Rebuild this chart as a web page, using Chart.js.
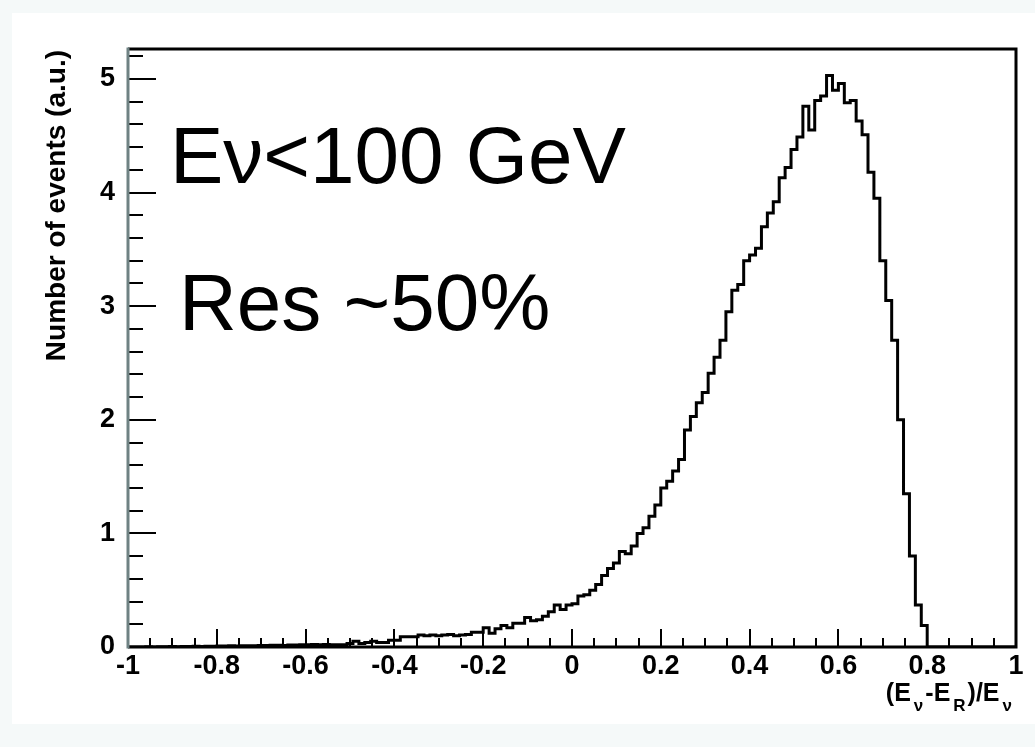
<!DOCTYPE html>
<html>
<head>
<meta charset="utf-8">
<script src="https://cdn.jsdelivr.net/npm/chart.js@4.4.1/dist/chart.umd.min.js"></script>
<style>
    body { margin: 0; background: #f5f9f9; }
    #sheet { position: absolute; left: 12px; top: 13px; width: 1023px; height: 711px; background: #ffffff; }
    #plot { position: absolute; left: 0; top: 0; }
</style>
</head>
<body>
<div id="sheet"></div>
<canvas id="plot" width="1035" height="747"></canvas>
<script>
// histogram: 150 bins between -1 and 1
const binMin = -1;
const binMax = 1;
const counts = [
    0, 0, 0, 0.002, 0, 0.003, 0.002, 0.004, 0.003, 0.005,
    0.004, 0.006, 0.005, 0.007, 0.006, 0.008, 0.008, 0.01, 0.009, 0.011,
    0.012, 0.01, 0.014, 0.013, 0.015, 0.016, 0.014, 0.018, 0.017, 0.02,
    0.019, 0.021, 0.02, 0.022, 0.02, 0.02, 0.02, 0.03, 0.05, 0.03,
    0.04, 0.05, 0.04, 0.04, 0.06, 0.06, 0.09, 0.09, 0.09, 0.105,
    0.10, 0.105, 0.10, 0.105, 0.11, 0.10, 0.105, 0.11, 0.13, 0.13,
    0.17, 0.12, 0.16, 0.19, 0.17, 0.21, 0.21, 0.26, 0.23, 0.24,
    0.27, 0.31, 0.37, 0.33, 0.37, 0.38, 0.45, 0.46, 0.50, 0.55,
    0.63, 0.69, 0.74, 0.84, 0.82, 0.89, 1.00, 1.05, 1.15, 1.25,
    1.40, 1.46, 1.55, 1.65, 1.91, 2.03, 2.15, 2.24, 2.41, 2.55,
    2.70, 2.95, 3.14, 3.19, 3.40, 3.45, 3.51, 3.70, 3.82, 3.92,
    4.13, 4.22, 4.38, 4.49, 4.76, 4.55, 4.81, 4.85, 5.03, 4.90,
    4.96, 4.79, 4.81, 4.63, 4.51, 4.18, 3.95, 3.40, 3.05, 2.70,
    2.00, 1.35, 0.80, 0.37, 0.19, 0, 0, 0, 0, 0,
    0, 0, 0, 0, 0, 0, 0, 0, 0, 0
];

const xTicks = [-1, -0.8, -0.6, -0.4, -0.2, 0, 0.2, 0.4, 0.6, 0.8, 1];
const xTickLabels = ['-1', '-0.8', '-0.6', '-0.4', '-0.2', '0', '0.2', '0.4', '0.6', '0.8', '1'];
const yTicks = [0, 1, 2, 3, 4, 5];
const yTickLabels = ['0', '1', '2', '3', '4', '5'];
const yMax = 5.264;

const yTitle = 'Number of events (a.u.)';
const textLines = ['E\u03bd<100 GeV', 'Res ~50%'];

const tickFont = { family: 'Liberation Sans, Arial, sans-serif', size: 27, weight: 'bold' };

/**
 * Puntos del histograma en los bordes izquierdos de cada bin
 */
function histPoints(){
    const width = (binMax - binMin) / counts.length;
    const pts = counts.map((c, i) => ({ x: binMin + i * width, y: c }));
    pts.push({ x: binMax, y: 0 });
    return pts;
}

// frame, inner ticks and texts, ROOT style
const rootDeco = {
    id: 'rootDeco',
    afterDatasetsDraw(chart){
        const ctx = chart.ctx;
        const area = chart.chartArea;
        const xs = chart.scales.x;
        const ys = chart.scales.y;

        ctx.save();
        ctx.lineWidth = 2;
        ctx.strokeStyle = '#000';
        // y ticks every 0.2, long ones on integers
        for (let i = 0; i <= 26; i++){
            const v = i * 0.2;
            if (v > yMax) break;
            const py = Math.round(ys.getPixelForValue(v));
            const len = (i % 5 === 0) ? 28 : 15;
            ctx.beginPath();
            ctx.moveTo(area.left, py);
            ctx.lineTo(area.left + len, py);
            ctx.stroke();
        }
        // x ticks every 0.05, long ones every 0.2
        for (let i = 0; i <= 40; i++){
            const v = -1 + i * 0.05;
            const px = Math.round(xs.getPixelForValue(v));
            const len = (i % 4 === 0) ? 18 : 9;
            ctx.beginPath();
            ctx.moveTo(px, area.bottom);
            ctx.lineTo(px, area.bottom - len);
            ctx.stroke();
        }

        // frame
        ctx.lineWidth = 3;
        ctx.strokeStyle = '#000';
        ctx.beginPath();
        ctx.moveTo(area.left, area.top);
        ctx.lineTo(area.right, area.top);
        ctx.lineTo(area.right, area.bottom);
        ctx.lineTo(area.left, area.bottom);
        ctx.stroke();
        ctx.strokeStyle = '#6f8283';
        ctx.beginPath();
        ctx.moveTo(area.left, area.top - 1.5);
        ctx.lineTo(area.left, area.bottom + 1.5);
        ctx.stroke();

        // y axis title
        ctx.fillStyle = '#000';
        ctx.font = 'bold 28px "Liberation Sans", Arial, sans-serif';
        ctx.translate(57, 50);
        ctx.rotate(-Math.PI / 2);
        ctx.textAlign = 'right';
        ctx.textBaseline = 'middle';
        ctx.fillText(yTitle, 0, 0);
        ctx.restore();

        // x axis title with subscripts
        ctx.save();
        ctx.fillStyle = '#000';
        ctx.textBaseline = 'alphabetic';
        const parts = [
            { t: '(E', sub: false }, { t: '\u03bd', sub: true },
            { t: '-E', sub: false }, { t: 'R', sub: true },
            { t: ')/E', sub: false }, { t: '\u03bd', sub: true }
        ];
        const mainFont = 'bold 25px "Liberation Sans", Arial, sans-serif';
        const subFont = 'bold 17px "Liberation Sans", Arial, sans-serif';
        let total = 0;
        parts.forEach(p => {
            ctx.font = p.sub ? subFont : mainFont;
            p.w = ctx.measureText(p.t).width + (p.sub ? 5 : 0);
            total += p.w;
        });
        let x = 1014 - total;
        parts.forEach(p => {
            ctx.font = p.sub ? subFont : mainFont;
            ctx.fillText(p.t, x + (p.sub ? 3 : 0), p.sub ? 711 : 701);
            x += p.w;
        });

        // big labels
        ctx.font = '80px "Liberation Sans", Arial, sans-serif';
        ctx.textAlign = 'left';
        ctx.fillText(textLines[0], 170, 183);
        ctx.fillText(textLines[1], 179, 330);
        ctx.restore();
    }
};

const ctx = document.getElementById('plot').getContext('2d');
const histChart = new Chart(ctx, {
    type: 'line',
    data: {
        datasets: [{
            data: histPoints(),
            stepped: true,
            borderColor: '#000',
            borderWidth: 3,
            pointRadius: 0,
            fill: false
        }]
    },
    options: {
        responsive: false,
        animation: false,
        devicePixelRatio: 1,
        layout: { padding: { left: 0, right: 19, top: 49, bottom: 0 } },
        plugins: { legend: { display: false }, tooltip: { enabled: false } },
        scales: {
            x: {
                type: 'linear',
                min: binMin,
                max: binMax,
                grid: { display: false },
                border: { display: false },
                afterBuildTicks: scale => { scale.ticks = xTicks.map(v => ({ value: v })); },
                afterFit: scale => { scale.height = 100; },
                ticks: {
                    color: '#000',
                    font: tickFont,
                    padding: -5,
                    maxRotation: 0,
                    autoSkip: false,
                    callback: (value, index) => xTickLabels[index]
                }
            },
            y: {
                type: 'linear',
                min: 0,
                max: yMax,
                grid: { display: false },
                border: { display: false },
                afterBuildTicks: scale => { scale.ticks = yTicks.map(v => ({ value: v })); },
                afterFit: scale => { scale.width = 128; },
                ticks: {
                    color: '#000',
                    font: tickFont,
                    padding: 5,
                    autoSkip: false,
                    callback: (value, index) => yTickLabels[index]
                }
            }
        }
    },
    plugins: [rootDeco]
});
</script>
</body>
</html>
